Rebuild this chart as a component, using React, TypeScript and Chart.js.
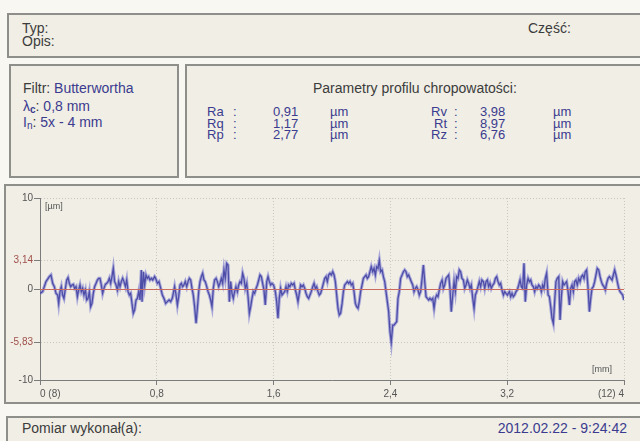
import React, { useEffect, useRef } from "react";
import { Chart, registerables } from "chart.js";
Chart.register(...registerables);

const xTickValues = [0, 0.8, 1.6, 2.4, 3.2, 4];
const xTickLabels = ["0 (8)", "0,8", "1,6", "2,4", "3,2", "(12) 4"];
const yTickValues = [-10, -5.83, 0, 3.14, 10];
const yTickLabels = ["-10", "-5,83", "0", "3,14", "10"];
const yTickColors = ["#555555", "#a0504a", "#555555", "#a0504a", "#555555"];

const paramNamesLeft = ["Ra", "Rq", "Rp"];
const paramValuesLeft = ["0,91", "1,17", "2,77"];
const paramNamesRight = ["Rv", "Rt", "Rz"];
const paramValuesRight = ["3,98", "8,97", "6,76"];

// profile points: [x in mm, y in µm]
const profile: [number, number][] = [
  [0.000,-0.48],[0.018,-0.29],[0.041,0.81],[0.064,1.36],[0.075,1.54],[0.087,0.62],[0.098,0.26],[0.110,-0.48],[0.121,-0.66],[0.128,-1.58],[0.137,-0.29],[0.146,0.26],[0.155,-0.66],[0.164,-1.03],[0.174,0.07],[0.183,0.99],[0.192,1.25],[0.201,0.62],[0.210,0.26],[0.219,0.44],[0.228,0.51],[0.237,0.07],[0.247,0.26],[0.256,-0.84],[0.265,-0.11],[0.274,0.44],[0.283,-0.29],[0.292,0.07],[0.301,-0.66],[0.311,-0.11],[0.320,-1.21],[0.329,-1.03],[0.338,-0.29],[0.347,-1.94],[0.356,-1.58],[0.365,-0.48],[0.374,0.26],[0.384,0.62],[0.393,0.99],[0.402,1.17],[0.411,1.17],[0.420,0.44],[0.429,-0.48],[0.438,0.07],[0.448,0.51],[0.457,0.62],[0.466,0.81],[0.475,1.17],[0.484,0.62],[0.493,1.36],[0.502,2.27],[0.511,0.81],[0.521,0.44],[0.530,-0.11],[0.539,0.81],[0.548,0.26],[0.557,0.81],[0.566,1.17],[0.575,0.81],[0.585,0.26],[0.594,0.99],[0.603,-0.29],[0.612,-0.66],[0.621,-0.48],[0.630,-1.58],[0.639,-2.67],[0.648,-2.31],[0.658,-1.21],[0.667,-1.03],[0.676,-0.29],[0.685,-1.21],[0.694,2.09],[0.699,-1.39],[0.708,1.90],[0.717,0.44],[0.726,1.54],[0.735,1.17],[0.744,1.36],[0.753,0.99],[0.763,1.17],[0.772,0.99],[0.785,1.36],
  [0.792,1.17],[0.804,0.62],[0.815,0.81],[0.827,0.07],[0.838,-0.66],[0.849,-1.03],[0.861,-1.58],[0.872,-1.39],[0.884,-1.21],[0.895,-1.39],[0.906,-1.03],[0.913,-0.48],[0.922,0.26],[0.932,-0.66],[0.941,-1.76],[0.950,-0.84],[0.959,0.44],[0.968,0.62],[0.977,0.26],[0.986,0.44],[0.995,0.81],[1.005,0.26],[1.014,0.81],[1.023,1.17],[1.032,0.99],[1.041,0.07],[1.050,-0.66],[1.059,-1.94],[1.069,-3.77],[1.078,-2.12],[1.087,-0.29],[1.096,0.81],[1.105,1.36],[1.114,1.72],[1.123,0.99],[1.132,0.81],[1.142,0.26],[1.151,-0.29],[1.160,-0.66],[1.169,-1.21],[1.178,-1.94],[1.187,0.07],[1.196,0.99],[1.206,1.17],[1.215,0.81],[1.224,0.26],[1.233,0.62],[1.242,1.17],[1.251,0.62],[1.260,2.09],[1.269,1.17],[1.279,2.82],[1.288,2.64],[1.297,-1.39],[1.306,0.81],[1.315,-0.48],[1.324,-1.03],[1.333,-0.29],[1.342,0.26],[1.352,-0.29],[1.361,0.44],[1.370,0.81],[1.379,0.62],[1.388,1.72],[1.397,1.17],[1.406,0.07],[1.416,0.62],[1.425,-0.84],[1.434,-2.67],[1.443,-1.94],[1.452,-1.03],[1.461,-0.29],[1.470,-0.48],[1.480,0.07],[1.489,0.44],[1.498,0.99],[1.507,1.54],[1.516,1.36],[1.525,0.62],[1.534,-0.11],[1.543,-1.76],[1.553,0.81],[1.562,1.36],[1.571,0.81],[1.580,0.44],
  [1.589,0.62],[1.600,0.44],[1.612,-0.29],[1.621,-1.39],[1.630,-3.22],[1.639,-1.03],[1.648,0.07],[1.658,-0.66],[1.667,-0.48],[1.676,-0.29],[1.685,0.26],[1.694,-0.29],[1.703,0.44],[1.712,0.26],[1.721,0.62],[1.731,0.44],[1.740,0.62],[1.749,-0.11],[1.758,-0.66],[1.767,-1.39],[1.776,-0.48],[1.785,0.44],[1.795,0.26],[1.804,0.44],[1.813,0.07],[1.822,-0.48],[1.831,-0.84],[1.840,-1.03],[1.849,-0.66],[1.858,-0.29],[1.868,0.26],[1.877,0.62],[1.886,0.07],[1.895,0.26],[1.904,-0.29],[1.913,-0.66],[1.922,-0.48],[1.932,0.07],[1.941,0.62],[1.950,1.17],[1.959,1.36],[1.968,0.81],[1.977,1.54],[1.986,1.72],[1.995,1.54],[2.005,1.90],[2.014,1.54],[2.023,0.81],[2.032,-0.66],[2.041,-2.12],[2.050,-2.86],[2.059,-2.67],[2.069,-1.58],[2.078,-0.29],[2.087,0.44],[2.096,0.62],[2.105,0.81],[2.114,0.62],[2.123,0.81],[2.132,0.44],[2.142,0.62],[2.151,-0.29],[2.160,-1.58],[2.169,-1.94],[2.178,-2.12],[2.187,-1.39],[2.196,-0.29],[2.206,0.44],[2.215,1.17],[2.224,1.36],[2.233,1.54],[2.242,1.17],[2.251,1.36],[2.260,1.90],[2.269,2.45],[2.279,1.90],[2.288,2.27],[2.297,1.54],[2.306,2.45],[2.315,2.27],[2.324,3.14],[2.333,1.90],[2.343,2.09],[2.352,1.36],[2.361,0.81],[2.370,-0.29],[2.379,-1.39],[2.388,-2.49],[2.397,-4.69],
  [2.406,-5.83],[2.416,-3.96],[2.425,-3.96],[2.434,-3.77],[2.443,-3.59],[2.452,-1.03],[2.461,-0.29],[2.470,1.17],[2.480,1.54],[2.489,1.90],[2.498,2.09],[2.507,1.90],[2.516,1.36],[2.525,1.54],[2.534,1.17],[2.543,0.81],[2.553,0.44],[2.562,-0.29],[2.571,0.07],[2.580,0.26],[2.589,-0.11],[2.598,-0.66],[2.607,-0.29],[2.617,1.17],[2.626,2.64],[2.635,0.81],[2.644,-0.84],[2.653,-1.03],[2.662,-1.21],[2.671,-1.03],[2.680,-1.21],[2.690,-1.03],[2.699,-2.12],[2.708,-1.03],[2.717,-0.66],[2.726,-0.84],[2.735,-0.11],[2.744,0.62],[2.754,0.99],[2.763,0.07],[2.772,0.44],[2.781,1.17],[2.790,1.36],[2.799,1.54],[2.808,0.07],[2.817,-2.49],[2.827,-0.66],[2.836,0.81],[2.845,-0.29],[2.854,1.36],[2.863,1.17],[2.872,2.09],[2.881,1.90],[2.890,1.17],[2.900,0.99],[2.909,0.07],[2.918,0.44],[2.927,0.99],[2.936,0.62],[2.945,0.07],[2.954,0.44],[2.964,-1.03],[2.973,-2.12],[2.982,-0.66],[2.991,-0.29],[3.000,0.26],[3.009,0.81],[3.018,0.26],[3.027,0.99],[3.037,0.81],[3.046,0.07],[3.055,0.81],[3.064,0.99],[3.073,0.26],[3.082,0.62],[3.091,0.07],[3.101,0.44],[3.110,0.62],[3.119,1.17],[3.128,1.36],[3.137,0.81],[3.146,0.44],[3.155,0.62],[3.164,-0.11],[3.174,-0.66],[3.183,-0.29],[3.192,-0.48],[3.201,-0.66],
  [3.215,-0.29],[3.224,-0.84],[3.233,-0.48],[3.242,-0.84],[3.251,-0.66],[3.260,-0.29],[3.269,-0.11],[3.279,0.44],[3.288,0.99],[3.297,0.26],[3.306,0.07],[3.315,2.82],[3.324,-1.39],[3.333,0.44],[3.343,1.17],[3.352,0.81],[3.361,0.99],[3.370,0.44],[3.379,0.26],[3.388,-0.29],[3.397,0.26],[3.406,0.07],[3.416,0.44],[3.425,0.26],[3.434,-0.29],[3.443,0.44],[3.452,0.07],[3.461,1.17],[3.470,1.72],[3.480,-0.66],[3.489,-0.84],[3.498,-1.94],[3.507,-3.22],[3.516,-3.77],[3.525,-1.39],[3.534,0.81],[3.543,1.17],[3.553,1.36],[3.562,-3.41],[3.571,-0.84],[3.580,0.81],[3.589,0.44],[3.598,0.62],[3.607,0.81],[3.617,-0.29],[3.626,-1.76],[3.635,0.07],[3.644,0.44],[3.653,-0.29],[3.662,0.81],[3.671,0.99],[3.680,0.44],[3.690,1.17],[3.699,0.81],[3.708,1.36],[3.717,1.54],[3.726,1.17],[3.735,1.90],[3.744,2.09],[3.754,0.07],[3.763,-2.49],[3.772,-1.03],[3.781,0.07],[3.790,0.26],[3.799,0.81],[3.808,1.54],[3.817,2.27],[3.827,2.09],[3.836,1.36],[3.845,0.81],[3.854,0.44],[3.863,0.26],[3.872,-0.11],[3.881,0.62],[3.891,1.17],[3.900,1.36],[3.909,1.17],[3.918,0.99],[3.927,1.54],[3.936,2.09],[3.945,1.54],[3.954,0.81],[3.964,0.07],[3.973,-0.29],[3.982,-0.48],[3.991,-0.66],[4.000,-1.21],
];

const FONT = "'Liberation Sans', Arial, sans-serif";
const GRAY = "#3c3c3c";
const BLUE = "#3b3b8f";
const PANEL_BG = "#f0eee5";
const PANEL_BORDER = "#8e8e8a";

const panel = (left: number, top: number, width: number, height: number): React.CSSProperties => ({
  position: "absolute", left, top, width, height, background: PANEL_BG,
  border: `2px solid ${PANEL_BORDER}`, boxSizing: "border-box",
});

const txt = (left: number, cy: number, color: string, size = 14, extra: React.CSSProperties = {}): React.CSSProperties => ({
  position: "absolute", left, top: cy - 8, lineHeight: "16px", fontSize: size, color, whiteSpace: "nowrap", ...extra,
});

const overlayPlugin = {
  id: "overlay",
  afterDatasetsDraw(chart: any) {
    const { ctx, chartArea, scales } = chart;
    const y0 = scales.y.getPixelForValue(0);
    ctx.save();
    ctx.strokeStyle = "#cc6a5e";
    ctx.lineWidth = 1;
    ctx.beginPath();
    ctx.moveTo(chartArea.left, Math.round(y0) + 0.5);
    ctx.lineTo(chartArea.right, Math.round(y0) + 0.5);
    ctx.stroke();
    ctx.fillStyle = "#555555";
    ctx.font = `9px ${FONT}`;
    ctx.textBaseline = "middle";
    ctx.textAlign = "left";
    ctx.fillText("[µm]", chartArea.left + 5, chartArea.top + 9);
    ctx.textAlign = "right";
    ctx.fillText("[mm]", chartArea.right - 12, chartArea.bottom - 10);
    ctx.restore();
  },
};

function ProfileChart() {
  const ref = useRef<HTMLCanvasElement>(null);
  useEffect(() => {
    if (!ref.current) return;
    const pts = profile.map(([x, y]) => ({ x, y }));
    const chart = new Chart(ref.current, {
      type: "line",
      data: {
        datasets: [
          { data: pts, borderColor: "rgba(110,110,205,0.55)", borderWidth: 3.2, pointRadius: 0, tension: 0 },
          { data: pts, borderColor: "#27277a", borderWidth: 1.3, pointRadius: 0, tension: 0 },
        ],
      },
      options: {
        animation: false,
        responsive: false,
        maintainAspectRatio: false,
        layout: { padding: { top: 14, right: 16, left: 0, bottom: 0 } },
        plugins: { legend: { display: false }, tooltip: { enabled: false } },
        scales: {
          x: {
            type: "linear", min: 0, max: 4,
            afterBuildTicks: (s: any) => { s.ticks = xTickValues.map((v) => ({ value: v })); },
            afterFit: (s: any) => { s.height = 24; },
            ticks: {
              autoSkip: false, maxRotation: 0, align: "inner", padding: 3, color: "#555555",
              font: { size: 10, family: FONT },
              callback: (_v: any, i: number) => xTickLabels[i],
            },
            grid: { color: "#c9c7bd", lineWidth: 1, tickLength: 5, tickColor: "#7c7c7c" },
            border: { display: true, color: "#7c7c7c", width: 1, dash: [1, 2] },
          },
          y: {
            type: "linear", min: -10, max: 10,
            afterBuildTicks: (s: any) => { s.ticks = yTickValues.map((v) => ({ value: v })); },
            afterFit: (s: any) => { s.width = 40; },
            ticks: {
              autoSkip: false, padding: 1,
              font: { size: 10, family: FONT },
              color: (c: any) => yTickColors[c.index] ?? "#555555",
              callback: (_v: any, i: number) => yTickLabels[i],
            },
            grid: {
              color: (c: any) => (c.tick && c.tick.value === 0 ? "rgba(0,0,0,0)" : "#c9c7bd"),
              lineWidth: 1, tickLength: 6, tickColor: "#7c7c7c",
            },
            border: { display: true, color: "#7c7c7c", width: 1, dash: [1, 2] },
          },
        },
      },
      plugins: [overlayPlugin],
    });
    return () => chart.destroy();
  }, []);
  return <canvas ref={ref} width={640} height={220} style={{ position: "absolute", left: 0, top: 184, width: 640, height: 220 }} />;
}

export default function App() {
  const rowY = [112, 123.5, 135];
  return (
    <div style={{ position: "fixed", left: 0, top: 0, width: 640, height: 441, overflow: "hidden", background: "#f8f7f2", fontFamily: FONT }}>
      <div style={panel(7, 13, 660, 45)} />
      <div style={txt(22, 28, GRAY)}>Typ:</div>
      <div style={txt(22, 41, GRAY)}>Opis:</div>
      <div style={txt(528, 28, GRAY)}>Część:</div>

      <div style={panel(9, 64, 170, 114)} />
      <div style={txt(23, 88, GRAY)}>Filtr: <span style={{ color: BLUE }}>Butterwortha</span></div>
      <div style={txt(23, 106, GRAY)}><span style={{ color: BLUE }}>λ<sub style={{ fontSize: 10, verticalAlign: "-2px", fontWeight: "bold" }}>c</sub></span>: <span style={{ color: BLUE }}>0,8 mm</span></div>
      <div style={txt(23, 122, BLUE)}>I<sub style={{ fontSize: 10, verticalAlign: "-2px" }}>n</sub><span style={{ color: GRAY }}>:</span> 5x - 4 mm</div>

      <div style={panel(185, 64, 470, 114)} />
      <div style={txt(313, 88, GRAY)}>Parametry profilu chropowatości:</div>
      {paramNamesLeft.map((n, i) => (
        <div key={"l" + i} style={txt(207, rowY[i], BLUE, 13)}>{n}</div>
      ))}
      {paramNamesLeft.map((_n, i) => (
        <div key={"lc" + i} style={txt(233, rowY[i], BLUE, 13)}>:</div>
      ))}
      {paramValuesLeft.map((v, i) => (
        <div key={"lv" + i} style={txt(273, rowY[i], BLUE, 13)}>{v}</div>
      ))}
      {paramValuesLeft.map((_v, i) => (
        <div key={"lu" + i} style={txt(330, rowY[i], BLUE, 13)}>µm</div>
      ))}
      {paramNamesRight.map((n, i) => (
        <div key={"r" + i} style={txt(418, rowY[i], BLUE, 13, { width: 29, textAlign: "right" })}>{n}</div>
      ))}
      {paramNamesRight.map((_n, i) => (
        <div key={"rc" + i} style={txt(454, rowY[i], BLUE, 13)}>:</div>
      ))}
      {paramValuesRight.map((v, i) => (
        <div key={"rv" + i} style={txt(480, rowY[i], BLUE, 13)}>{v}</div>
      ))}
      {paramValuesRight.map((_v, i) => (
        <div key={"ru" + i} style={txt(553, rowY[i], BLUE, 13)}>µm</div>
      ))}

      <div style={panel(4, 184, 660, 220)} />
      <ProfileChart />

      <div style={panel(6, 416, 660, 40)} />
      <div style={txt(22, 428, GRAY)}>Pomiar wykonał(a):</div>
      <div style={txt(440, 428, BLUE, 14, { width: 187, textAlign: "right" })}>2012.02.22 - 9:24:42</div>
    </div>
  );
}
